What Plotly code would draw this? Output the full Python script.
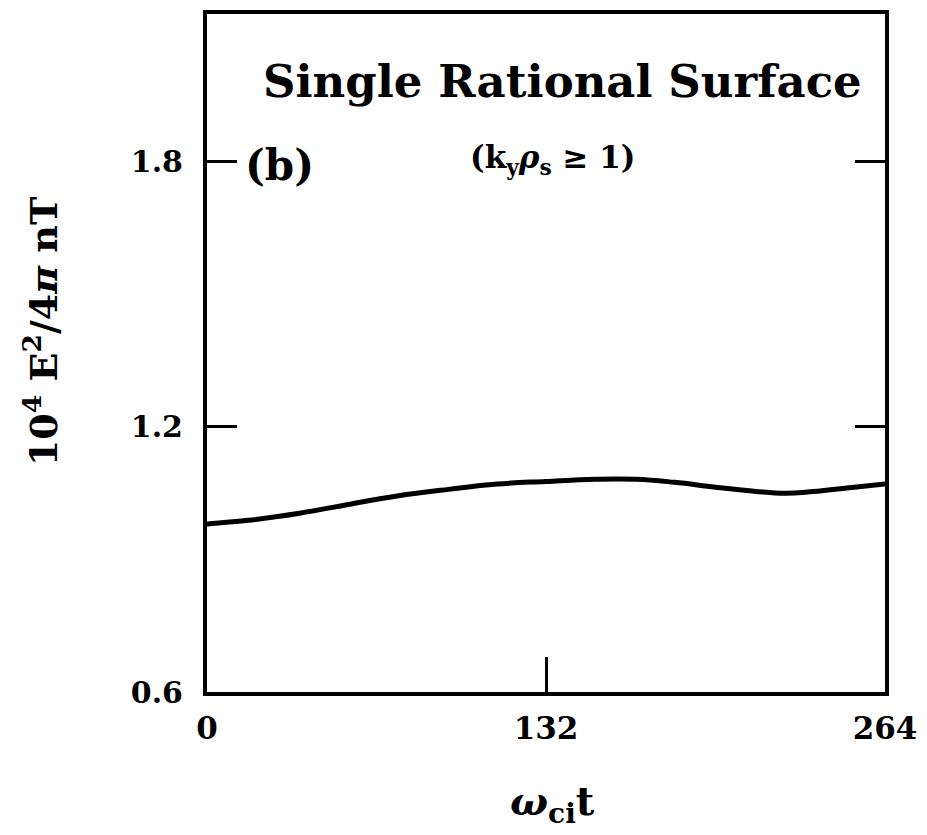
import plotly.graph_objects as go

# data
t_values = [0, 16, 36, 55, 74, 94, 113, 132, 151, 167, 182, 198, 213, 225, 236, 252, 264]
energy = [0.980, 0.988, 1.004, 1.024, 1.043, 1.058, 1.070, 1.076, 1.081, 1.081,
          1.074, 1.063, 1.054, 1.049, 1.053, 1.063, 1.070]
x_ticks = [0, 132, 264]
x_tick_labels = ["0", "132", "264"]
y_ticks = [0.6, 1.2, 1.8]
y_tick_labels = ["0.6", "1.2", "1.8"]

FONT = "DejaVu Serif"

fig = go.Figure()
fig.add_trace(go.Scatter(x=t_values, y=energy, mode="lines",
                         line=dict(color="black", width=5, shape="spline", smoothing=1.2),
                         showlegend=False, hoverinfo="skip"))

fig.update_layout(
    width=927, height=835,
    margin=dict(l=207, r=35, t=10, b=143),
    paper_bgcolor="white", plot_bgcolor="white",
    font=dict(family=FONT, color="black"),
    xaxis=dict(range=[0, 264], tickvals=x_ticks, ticktext=x_tick_labels,
               ticks="inside", ticklen=35, tickwidth=3, tickcolor="black",
               showline=True, linewidth=4, linecolor="black", mirror=True,
               showgrid=False, zeroline=False,
               tickfont=dict(family=FONT, size=31, color="black", weight="bold"),
               ticklabelstandoff=6),
    yaxis=dict(range=[0.6, 2.1326], tickvals=y_ticks, ticktext=y_tick_labels,
               ticks="inside", ticklen=30, tickwidth=3, tickcolor="black",
               showline=True, linewidth=4, linecolor="black", mirror="ticks",
               showgrid=False, zeroline=False,
               tickfont=dict(family=FONT, size=30, color="black", weight="bold"),
               ticklabelstandoff=14),
)

ann = [
    dict(text="<b>Single Rational Surface</b>", x=0.524, y=0.901, size=45),
    dict(text="<b>(k<sub>y</sub><i>ρ</i><sub>s</sub> ≥ 1)</b>", x=0.51, y=0.785, size=31),
    dict(text="<b>(b)</b>", x=0.107, y=0.777, size=42),
    dict(text="<b><i>ω</i><sub>ci</sub>t</b>", x=0.51, y=-0.165, size=40),
]
for a in ann:
    fig.add_annotation(text=a["text"], x=a["x"], y=a["y"], xref="paper", yref="paper",
                       showarrow=False, xanchor="center", yanchor="middle",
                       font=dict(family=FONT, size=a["size"], color="black"))

fig.add_annotation(text="<b>10<sup>4</sup> E<sup>2</sup>/4<i>π</i> nT</b>", x=-0.245, y=0.532,
                   xref="paper", yref="paper", showarrow=False, textangle=-90,
                   xanchor="center", yanchor="middle",
                   font=dict(family=FONT, size=38, color="black"))

fig.write_html("out.html")
